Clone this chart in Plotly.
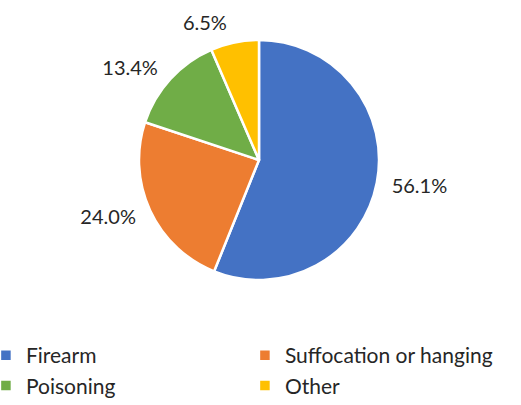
import plotly.graph_objects as go

# Share of deaths by method
methods = ["Firearm", "Suffocation or hanging", "Poisoning", "Other"]
shares = [56.1, 24.0, 13.4, 6.5]
slice_colors = ["#4472C4", "#ED7D31", "#70AD47", "#FFC000"]

W, H = 521, 405
BOTTOM = 70            # space under the plot area reserved for the legend
PH = H - BOTTOM        # plot-area height
cx, cy = 259, 160      # pie centre in pixels
r_pie = 120            # drawn pie radius
r_labels = 129         # radius that the percentage labels sit outside of

TEXT = "#262626"
FONT = "Century Gothic, Lato, sans-serif"


def domain(radius):
    return dict(
        x=[(cx - radius) / W, (cx + radius) / W],
        y=[1 - (cy + radius) / PH, 1 - (cy - radius) / PH],
    )


fig = go.Figure()

# Transparent, slightly larger copy that only carries the outside labels
fig.add_trace(
    go.Pie(
        labels=methods,
        values=shares,
        sort=False,
        direction="clockwise",
        rotation=0,
        marker=dict(colors=["rgba(0,0,0,0)"] * len(methods), line=dict(width=0)),
        texttemplate="%{value:.1f}%",
        textposition="outside",
        textfont=dict(size=20, color=TEXT, family=FONT),
        hoverinfo="skip",
        showlegend=False,
        domain=domain(r_labels),
    )
)

# The visible pie
fig.add_trace(
    go.Pie(
        labels=methods,
        values=shares,
        sort=False,
        direction="clockwise",
        rotation=0,
        marker=dict(colors=slice_colors, line=dict(color="white", width=2.5)),
        textinfo="none",
        hoverinfo="label+percent",
        domain=domain(r_pie),
    )
)

fig.update_layout(
    width=W,
    height=H,
    margin=dict(l=0, r=0, t=0, b=BOTTOM, autoexpand=False),
    paper_bgcolor="white",
    font=dict(family=FONT, color=TEXT),
    showlegend=True,
    legend=dict(
        orientation="h",
        x=-0.027,
        xanchor="left",
        y=1 - 335 / PH,
        yanchor="top",
        entrywidth=214,
        entrywidthmode="pixels",
        font=dict(size=21, color=TEXT, family=FONT),
        traceorder="normal",
    ),
)

fig.write_html("out.html")
